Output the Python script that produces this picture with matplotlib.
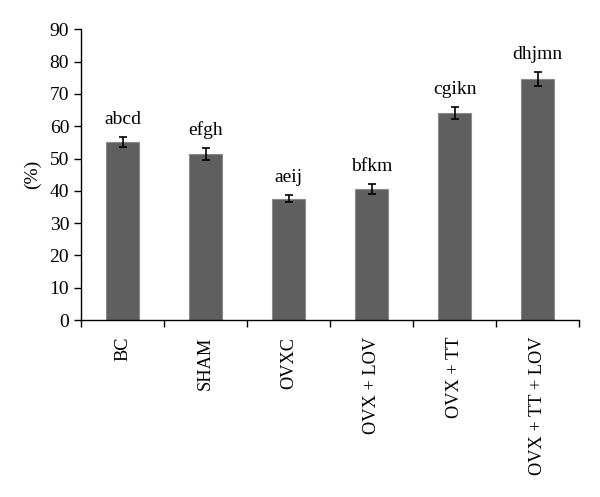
import matplotlib.pyplot as plt

plt.rcParams['font.family'] = ['Liberation Serif', 'DejaVu Serif']

groups = ['BC', 'SHAM', 'OVXC', 'OVX + LOV', 'OVX + TT', 'OVX + TT + LOV']
values = [55.2, 51.5, 37.6, 40.5, 64.2, 74.7]
errors = [1.6, 1.8, 1.2, 1.6, 1.9, 2.1]
letters = ['abcd', 'efgh', 'aeij', 'bfkm', 'cgikn', 'dhjmn']

fig = plt.figure(figsize=(6, 4.97), dpi=100)
ax = fig.add_axes([0.135, 0.356, 0.83, 0.585])

x = range(len(groups))
ax.bar(x, values, width=0.39, color='#5f5f5f', edgecolor='#8a8a8a', linewidth=0.8,
       yerr=errors, error_kw=dict(ecolor='black', elinewidth=1.2, capsize=3, capthick=1.2))

for i, (v, e, t) in enumerate(zip(values, errors, letters)):
    ax.text(i, v + e + 3.9, t, ha='center', va='baseline', fontsize=14)

ax.set_xlim(-0.5, len(groups) - 0.5)
ax.set_ylim(0, 90)
ax.set_yticks(range(0, 91, 10))
ax.set_xticks([i - 0.5 for i in range(len(groups) + 1)], minor=False)
ax.set_xticklabels([])
ax.set_xticks(list(x), minor=True)
ax.set_xticklabels(groups, minor=True, rotation=90, fontsize=13.2)
ax.tick_params(axis='x', which='minor', length=0, pad=12)
ax.tick_params(axis='x', which='major', length=5, width=1, direction='out')
ax.tick_params(axis='y', length=5, width=1, direction='out', labelsize=14)
ax.set_ylabel('(%)', fontsize=14, labelpad=6)

for s in ['top', 'right']:
    ax.spines[s].set_visible(False)
for s in ['left', 'bottom']:
    ax.spines[s].set_linewidth(1)

fig.savefig('out.png', dpi=100)
